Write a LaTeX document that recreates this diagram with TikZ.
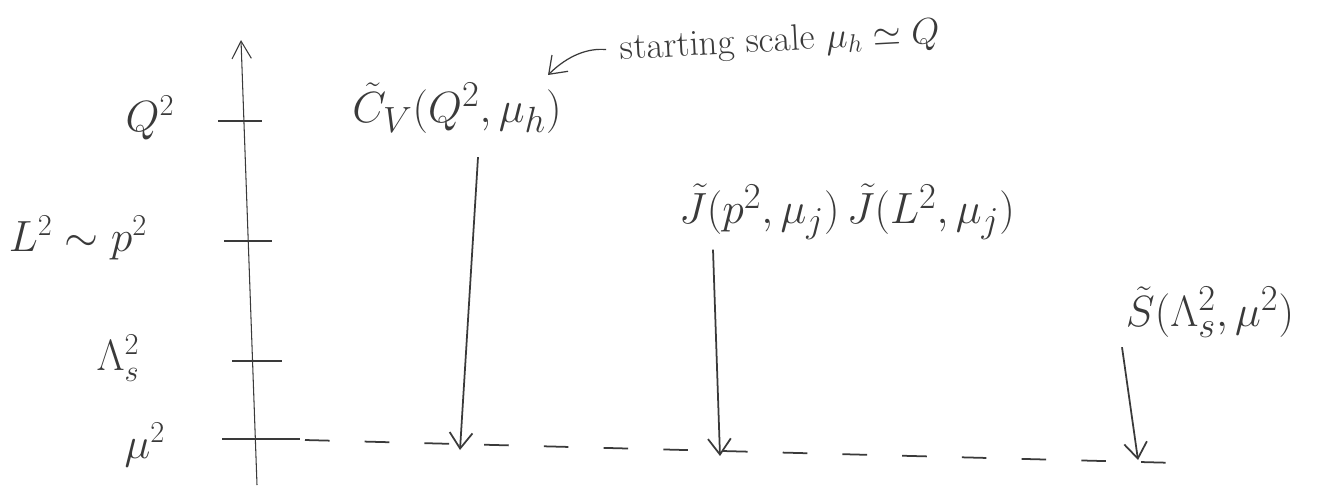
\documentclass[tikz,border=0pt]{standalone}
\usepackage{tikz}
\usetikzlibrary{arrows.meta,positioning,calc}
\usepackage{amsmath,amssymb}
\definecolor{pencil}{HTML}{3A3A3A}

\begin{document}
\begin{tikzpicture}[x=0.02cm, y=-0.02cm,
  lbl/.style={font=\fontsize{25}{30}\selectfont, text=pencil, inner sep=2pt},
  biglbl/.style={font=\fontsize{29}{34}\selectfont, text=pencil, inner sep=2pt},
  notelbl/.style={font=\fontsize{21}{25}\selectfont, text=pencil, inner sep=2pt},
  flow/.style={-{Straight Barb[length=9pt,width=13pt]}, line width=1pt, draw=pencil},
  scaletick/.style={line width=1.1pt, draw=pencil}
]
  \useasboundingbox (0,0) rectangle (1331,495);
  \coordinate (abot) at (257,485);
  \coordinate (atop) at (241,40);
  \draw[-{Straight Barb[length=10pt,width=11pt]}, line width=0.6pt, draw=pencil] (abot) -- (atop);
  \foreach \ya/\xa/\xb in {121/218/262, 241/224/272, 361/232/282, 439/222/300}
    \draw[scaletick] (\xa,\ya) -- (\xb,\ya);
  \node[lbl] (lq) at (150,118) {$Q^2$};
  \node[lbl] (llp) at (78,238) {$L^2\sim p^2$};
  \node[lbl] (lls) at (118,358) {$\Lambda_s^2$};
  \node[lbl] (lmu) at (145,445) {$\mu^2$};
  \node[biglbl] (cv) at (457,108) {$\tilde C_V(Q^2,\mu_h)$};
  \node[biglbl] (jj) at (847,212) {$\tilde J(p^2,\mu_j)\,\tilde J(L^2,\mu_j)$};
  \node[biglbl] (ss) at (1210,312) {$\tilde S(\Lambda_s^2,\mu^2)$};
  \node[notelbl, rotate=3] (note) at (780,42) {starting scale $\mu_h\simeq Q$};
  \coordinate (dstart) at (305,440);
  \coordinate (dend) at (1178,463);
  \draw[pencil, line width=1pt, dash pattern=on 14pt off 20pt] (dstart) -- (dend);
  \coordinate (cend) at (460,450);
  \coordinate (jend) at (720,456);
  \coordinate (send) at (1138,460);
  \coordinate (ntip) at (548,75);
  \draw[flow] ($(cv.south)+(21,20)$) -- (cend);
  \draw[flow] ($(jj.south)+(-134,6)$) -- (jend);
  \draw[flow] ($(ss.south)+(-88,6)$) -- (send);
  \draw[flow, line width=0.7pt, shorten <=6pt] (note.west) to[bend right=25] (ntip);
\end{tikzpicture}
\end{document}
